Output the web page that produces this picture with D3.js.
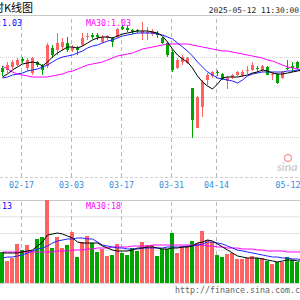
<!DOCTYPE html>
<html>
<head>
<meta charset="utf-8">
<script src="https://cdn.jsdelivr.net/npm/d3@7"></script>
<style>
body { margin: 0; background: #fff; overflow: hidden; }
text { font-family: "DejaVu Sans Mono", monospace; }
</style>
</head>
<body>
<div id="KChart"></div>
<script>
let dates = ['02-11','02-12','02-13','02-14','02-17','02-18','02-19','02-20','02-21','02-24','02-25','02-26','02-27','02-28',
  '03-03','03-04','03-05','03-06','03-07','03-10','03-11','03-12','03-13','03-14','03-17','03-18','03-19','03-20','03-21',
  '03-24','03-25','03-26','03-27','03-28','03-31','04-01','04-02','04-03','04-07','04-08','04-09','04-10','04-11',
  '04-14','04-15','04-16','04-17','04-18','04-21','04-22','04-23','04-24','04-25','04-28','04-29','04-30',
  '05-06','05-07','05-08','05-09','05-12']
let tickDates = ['02-17', '03-03', '03-17', '03-31', '04-14', '05-12']

let opens = [1.029,1.027,1.030,1.032,1.038,1.029,1.024,1.035,1.031,1.031,
  1.049,1.047,1.050,1.054,1.047,1.049,1.052,1.060,1.062,1.062,
  1.055,1.059,1.059,1.060,1.070,1.069,1.067,1.067,1.064,1.064,
  1.063,1.064,1.059,1.054,1.045,1.029,1.035,1.034,1.009,0.969,
  0.990,1.017,1.021,1.025,1.023,1.016,1.020,1.022,1.021,1.026,
  1.027,1.029,1.027,1.030,1.022,1.023,1.019,1.029,1.031,1.035,1.029]
let highs = [1.031,1.035,1.037,1.039,1.040,1.039,1.040,1.036,1.033,1.054,
  1.052,1.064,1.059,1.060,1.052,1.051,1.064,1.064,1.064,1.064,
  1.062,1.062,1.060,1.069,1.072,1.071,1.068,1.068,1.075,1.070,
  1.068,1.066,1.060,1.055,1.047,1.039,1.042,1.040,1.009,1.001,
  1.017,1.024,1.026,1.027,1.024,1.021,1.023,1.026,1.027,1.031,
  1.035,1.031,1.032,1.031,1.025,1.024,1.026,1.037,1.035,1.036,1.033]
let lows = [1.021,1.024,1.028,1.031,1.034,1.026,1.022,1.030,1.022,1.029,
  1.039,1.042,1.047,1.045,1.045,1.042,1.051,1.057,1.058,1.057,
  1.054,1.057,1.050,1.059,1.067,1.065,1.063,1.064,1.057,1.057,
  1.061,1.059,1.053,1.040,1.025,1.028,1.032,1.033,0.959,0.969,
  0.980,1.012,1.019,1.021,1.017,1.008,1.018,1.021,1.020,1.023,
  1.026,1.025,1.025,1.022,1.017,1.013,1.018,1.027,1.025,1.028,1.027]
let closes = [1.025,1.032,1.035,1.037,1.036,1.037,1.039,1.032,1.027,1.052,
  1.042,1.054,1.055,1.047,1.050,1.047,1.059,1.061,1.060,1.060,
  1.060,1.061,1.055,1.068,1.068,1.067,1.065,1.066,1.066,1.065,
  1.066,1.062,1.054,1.042,1.027,1.037,1.040,1.039,0.977,1.000,
  1.015,1.022,1.025,1.024,1.018,1.019,1.022,1.025,1.025,1.027,
  1.032,1.028,1.031,1.022,1.023,1.014,1.025,1.028,1.029,1.029,1.031]

// moving averages as shown on the chart
let ma5 = [1.020,1.023,1.027,1.030,1.033,1.034,1.035,1.034,1.031,1.035,
  1.040,1.044,1.047,1.050,1.050,1.049,1.051,1.054,1.057,1.059,
  1.060,1.060,1.059,1.061,1.063,1.064,1.065,1.066,1.066,1.066,
  1.065,1.064,1.061,1.055,1.048,1.042,1.038,1.035,1.029,1.021,
  1.015,1.011,1.008,1.013,1.019,1.020,1.020,1.020,1.021,1.022,
  1.024,1.025,1.027,1.026,1.024,1.023,1.023,1.024,1.025,1.026,1.027]
let ma10 = [1.019,1.020,1.022,1.023,1.024,1.026,1.027,1.028,1.030,1.032,
  1.035,1.038,1.040,1.041,1.042,1.044,1.046,1.049,1.051,1.052,
  1.054,1.056,1.057,1.059,1.061,1.062,1.063,1.064,1.064,1.064,
  1.064,1.063,1.062,1.060,1.058,1.054,1.050,1.046,1.041,1.035,
  1.030,1.025,1.022,1.019,1.018,1.017,1.016,1.014,1.017,1.021,
  1.023,1.024,1.025,1.025,1.025,1.025,1.025,1.026,1.026,1.027,1.027]
let ma30 = [1.031,1.028,1.025,1.023,1.022,1.021,1.020,1.020,1.020,1.020,
  1.021,1.022,1.023,1.025,1.026,1.028,1.030,1.032,1.033,1.034,
  1.035,1.037,1.039,1.041,1.042,1.043,1.044,1.046,1.048,1.049,
  1.050,1.051,1.052,1.053,1.053,1.053,1.053,1.053,1.052,1.051,
  1.050,1.049,1.048,1.047,1.046,1.046,1.045,1.044,1.043,1.042,
  1.041,1.040,1.039,1.037,1.036,1.034,1.032,1.030,1.029,1.028,1.027]

let volumes = [18.6,13.2,15.0,23.4,19.8,22.8,19.2,26.4,27.6,49.8,
  21.0,27.6,21.0,22.8,30.6,15.6,24.6,28.2,24.0,18.6,
  20.4,16.2,16.8,23.4,18.0,16.8,21.0,19.2,24.6,22.8,
  22.8,16.2,20.4,20.4,30.0,18.0,22.2,22.2,25.2,24.0,
  31.2,25.8,24.6,16.8,15.6,17.4,18.0,14.4,14.4,15.0,
  16.2,15.0,15.0,13.2,11.4,12.6,12.6,15.6,13.8,12.6,12.0]
let volMa5 = [18.0,18.0,18.0,18.0,18.6,19.2,19.8,22.2,24.6,28.8,
  29.4,30.0,29.4,28.2,27.0,24.6,24.0,24.0,24.0,24.0,
  22.2,21.0,19.8,19.2,19.2,19.2,19.8,21.0,21.0,21.6,
  21.6,21.0,20.4,20.4,21.0,21.0,21.6,21.6,22.2,24.0,
  24.6,25.8,25.2,23.4,21.6,19.8,18.0,16.2,15.6,15.0,
  15.0,15.0,14.4,13.8,13.2,12.6,13.2,13.8,13.8,13.2,13.2]
let volMa10 = [15.0,15.6,15.6,16.2,16.8,18.0,19.2,20.4,21.0,22.2,
  24.0,25.2,25.8,26.4,26.4,27.0,27.0,26.4,26.4,24.6,
  22.8,22.2,21.6,21.0,21.0,20.4,20.4,20.4,21.0,21.0,
  21.0,21.0,21.0,21.6,21.6,21.6,21.6,22.2,22.2,22.8,
  23.4,24.6,24.6,24.0,23.4,22.2,21.0,19.8,19.2,18.6,
  18.0,17.4,16.8,16.2,15.6,15.6,15.0,15.0,14.4,14.4,13.8]
let volMa30 = [18.6,18.6,18.6,18.6,18.6,18.6,18.6,18.6,18.6,18.6,
  18.6,19.2,19.2,19.2,19.8,19.8,19.8,20.4,20.4,21.0,
  21.0,21.0,21.6,21.6,21.6,21.6,22.2,22.2,22.2,22.2,
  22.8,22.8,22.8,22.8,22.8,22.8,22.8,22.8,22.8,22.8,
  22.8,22.2,22.2,21.6,21.6,21.0,21.0,21.0,20.4,20.4,
  20.4,19.8,19.8,19.2,19.2,19.2,19.2,18.6,18.6,18.6,18.6]

let width = 300
let height = 300
let red = '#ff6262'
let green = '#00a400'

let svg = d3.select('#KChart').append('svg')
  .attr('width', width).attr('height', height)
  .style('display', 'block')

let xScale = d3.scaleLinear().domain([0, dates.length - 1]).range([1, 301])
let yScale = d3.scaleLinear().domain([0.92, 1.08]).range([177, 17])
let vScale = d3.scaleLinear().domain([0, 49.8]).range([283, 200])
let tickIdx = tickDates.map(d => dates.indexOf(d))

// title + time
svg.append('text').attr('x', -7).attr('y', 12)
  .style('font-family', '"Noto Sans CJK SC", sans-serif').style('font-size', '11px')
  .attr('fill', '#000').text('时K线图')
svg.append('text').attr('x', 299).attr('y', 13).attr('text-anchor', 'end')
  .style('font-size', '7.9px').attr('fill', '#222').text('2025-05-12 11:30:00')

// panel borders
svg.append('line').attr('x1', 0).attr('x2', width).attr('y1', 15.5).attr('y2', 15.5)
  .attr('stroke', '#c8c8c8')
svg.append('line').attr('x1', 0).attr('x2', width).attr('y1', 177.5).attr('y2', 177.5)
  .attr('stroke', '#cfcfcf').attr('stroke-dasharray', '3,2')
svg.append('line').attr('x1', 0).attr('x2', width).attr('y1', 200.5).attr('y2', 200.5)
  .attr('stroke', '#c8c8c8')
svg.append('line').attr('x1', 0).attr('x2', width).attr('y1', 283.5).attr('y2', 283.5)
  .attr('stroke', '#d8d8d8')

// horizontal grid
let priceGrid = svg.append('g').attr('class', 'grid')
  .call(d3.axisRight(yScale).tickValues([1.04, 1.00, 0.96]).tickSize(width).tickFormat(''))
priceGrid.select('.domain').remove()
priceGrid.selectAll('line').attr('stroke', '#d4d4d4').attr('stroke-dasharray', '1,1')
let volGrid = svg.append('g').attr('class', 'grid')
  .call(d3.axisRight(vScale).tickValues([10, 20, 30, 40]).tickSize(width).tickFormat(''))
volGrid.select('.domain').remove()
volGrid.selectAll('line').attr('stroke', '#e2e2e2')

// vertical dashed grid in both panels
let vGrid1 = svg.append('g').attr('transform', 'translate(0,177)')
  .call(d3.axisBottom(xScale).tickValues(tickIdx).tickSize(-161).tickFormat(''))
vGrid1.select('.domain').remove()
let vGrid2 = svg.append('g').attr('transform', 'translate(0,283)')
  .call(d3.axisBottom(xScale).tickValues(tickIdx).tickSize(-83).tickFormat(''))
vGrid2.select('.domain').remove()
svg.selectAll('.tick line').filter(function () { return this.parentNode.parentNode !== priceGrid.node() && this.parentNode.parentNode !== volGrid.node() })
  .attr('stroke', '#b8b8b8').attr('stroke-dasharray', '4,3')

// date labels
let dateAxis = svg.append('g').attr('transform', 'translate(0,180)')
  .call(d3.axisBottom(xScale).tickValues(tickIdx).tickSize(0).tickFormat(i => dates[i]))
dateAxis.select('.domain').remove()
dateAxis.selectAll('text')
  .style('font-family', '"DejaVu Sans Mono", monospace').style('font-size', '8.3px')
  .attr('fill', '#2f8ee0').attr('dy', '0.55em')
dateAxis.selectAll('.tick').filter(i => xScale(i) > width - 14)
  .select('text').attr('text-anchor', 'end').attr('x', width - xScale(60))

// sina watermark
svg.append('circle').attr('cx', 288).attr('cy', 158).attr('r', 3.5)
  .attr('fill', 'none').attr('stroke', '#f6a0a0').attr('stroke-width', 1.5)
svg.append('text').attr('x', 277).attr('y', 171)
  .style('font-family', 'Lato, sans-serif').style('font-size', '12px')
  .style('font-style', 'italic').style('font-weight', 'bold')
  .attr('fill', '#cfcfcf').text('sina')

// volume bars
svg.append('g').selectAll('rect')
  .data(volumes)
  .enter()
  .append('rect')
  .attr('x', (d, i) => Math.round(xScale(i)) - 1)
  .attr('y', d => vScale(d))
  .attr('width', 4)
  .attr('height', d => 283 - vScale(d))
  .attr('fill', (d, i) => closes[i] >= opens[i] ? red : green)
  .attr('shape-rendering', 'crispEdges')

// candles
let candles = svg.append('g').selectAll('g')
  .data(dates)
  .enter()
  .append('g')
  .attr('shape-rendering', 'crispEdges')
candles.append('line')
  .attr('x1', (d, i) => Math.round(xScale(i)) + 1.5)
  .attr('x2', (d, i) => Math.round(xScale(i)) + 1.5)
  .attr('y1', (d, i) => yScale(highs[i]))
  .attr('y2', (d, i) => yScale(lows[i]))
  .attr('stroke', (d, i) => closes[i] >= opens[i] ? red : green)
candles.append('rect')
  .attr('x', (d, i) => Math.round(xScale(i)))
  .attr('y', (d, i) => yScale(Math.max(opens[i], closes[i])))
  .attr('width', 3)
  .attr('height', (d, i) => Math.max(1, Math.abs(yScale(opens[i]) - yScale(closes[i]))))
  .attr('fill', (d, i) => closes[i] >= opens[i] ? red : green)

// MA lines
let priceLine = d3.line().x((d, i) => xScale(i) + 1.5).y(d => yScale(d))
let volLine = d3.line().x((d, i) => xScale(i) + 1.5).y(d => vScale(d))
let lines = [
  [ma30, priceLine, '#ff00ff'], [ma10, priceLine, '#2020ff'], [ma5, priceLine, '#000'],
  [volMa30, volLine, '#ff00ff'], [volMa10, volLine, '#2020ff'], [volMa5, volLine, '#000']
]
lines.forEach(l => {
  svg.append('path').datum(l[0]).attr('d', l[1])
    .attr('fill', 'none').attr('stroke', l[2]).attr('stroke-width', 1)
})

// MA legends
svg.append('text').attr('x', 22).attr('y', 26).attr('text-anchor', 'end')
  .style('font-size', '8.3px').attr('fill', '#0000ff').text('MA10:1.03')
svg.append('text').attr('x', 86).attr('y', 26)
  .style('font-size', '8.3px').attr('fill', '#ff00ff').text('MA30:1.03')
svg.append('text').attr('x', 12).attr('y', 209).attr('text-anchor', 'end')
  .style('font-size', '8.3px').attr('fill', '#0000ff').text('MA10:13')
svg.append('text').attr('x', 86).attr('y', 209)
  .style('font-size', '8.3px').attr('fill', '#ff00ff').text('MA30:18')

svg.append('text').attr('x', 175).attr('y', 293)
  .style('font-size', '8.3px').attr('fill', '#666').text('http://finance.sina.com.cn')
</script>
</body>
</html>
